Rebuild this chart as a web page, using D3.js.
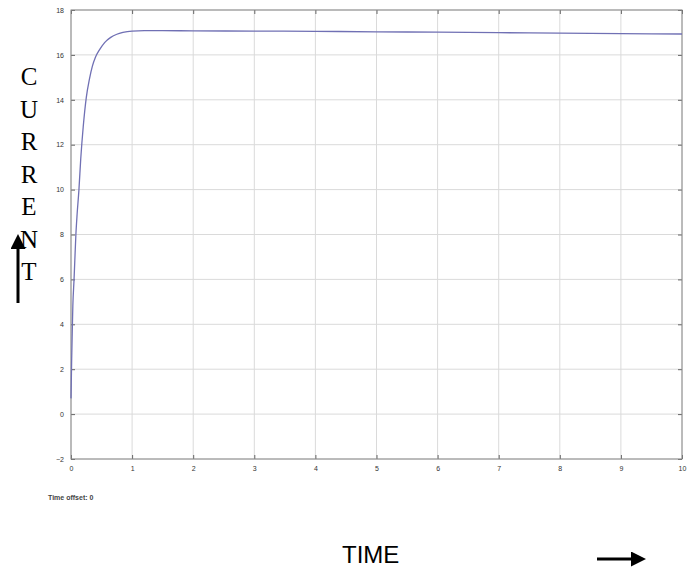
<!DOCTYPE html>
<meta charset="utf-8">
<script src="https://d3js.org/d3.v7.min.js"></script>
<style>
  body { margin: 0; background: #fff; }
  .tick text { font-family: "Liberation Sans", Arial, sans-serif; font-size: 7px; fill: #333; }
</style>
<div id="vis"></div>
<script>

    // current vs time
    var timeVals = [0, 0.01, 0.02, 0.03, 0.05, 0.08, 0.1, 0.13, 0.16, 0.2, 0.25, 0.3, 0.35, 0.4, 0.46, 0.55, 0.65, 0.75, 0.85, 1.0, 1.2, 1.5, 2, 3, 4, 5, 6, 7, 8, 9, 10]
    var currentVals = [0.7, 2.3, 3.6, 4.8, 6.0, 8.0, 8.9, 10.0, 11.4, 12.8, 14.1, 14.9, 15.5, 15.9, 16.2, 16.55, 16.78, 16.92, 17.0, 17.06, 17.08, 17.08, 17.07, 17.06, 17.05, 17.03, 17.01, 16.99, 16.97, 16.95, 16.93]
    var xTicks = [0, 1, 2, 3, 4, 5, 6, 7, 8, 9, 10]
    var yTicks = [-2, 0, 2, 4, 6, 8, 10, 12, 14, 16, 18]
    var yLetters = ["C", "U", "R", "R", "E", "N", "T"]

    var margin = { top: 10, left: 71 },
        width = 611,
        height = 449;

    var root = d3.select("#vis")
        .append("svg")
        .attr("width", 694)
        .attr("height", 568)

    var defs = root.append("defs")
    defs.append("marker")
        .attr("id", "head")
        .attr("viewBox", "0 0 10 10")
        .attr("refX", 0).attr("refY", 5)
        .attr("markerWidth", 5).attr("markerHeight", 5)
        .attr("orient", "auto")
        .append("path")
        .attr("d", "M0,0L10,5L0,10z")
        .attr("fill", "#000")

    var svg = root.append("g")
        .attr("transform", "translate(" + margin.left + "," + margin.top + ")");

    var x = d3.scaleLinear().domain([0, 10]).range([0, width])
    var y = d3.scaleLinear().domain([-2, 18]).range([height, 0])

    // grid
    svg.append("g")
        .selectAll("line")
        .data(xTicks)
        .enter().append("line")
        .attr("x1", d => x(d)).attr("x2", d => x(d))
        .attr("y1", 0).attr("y2", height)
        .attr("stroke", "#dadada")
    svg.append("g")
        .selectAll("line")
        .data(yTicks)
        .enter().append("line")
        .attr("x1", 0).attr("x2", width)
        .attr("y1", d => y(d)).attr("y2", d => y(d))
        .attr("stroke", "#dadada")

    // axes, ticks pointing inward
    svg.append("g")
        .attr("transform", "translate(0," + height + ")")
        .call(d3.axisBottom(x).tickValues(xTicks).tickSize(-4).tickPadding(7).tickFormat(d3.format("d")))
    svg.append("g")
        .call(d3.axisLeft(y).tickValues(yTicks).tickSize(-4).tickPadding(7).tickFormat(d3.format("d")))
    svg.append("g")
        .call(d3.axisTop(x).tickValues(xTicks).tickSize(-4).tickFormat(""))
    svg.append("g")
        .attr("transform", "translate(" + width + ",0)")
        .call(d3.axisRight(y).tickValues(yTicks).tickSize(-4).tickFormat(""))
    svg.selectAll(".domain").remove()
    svg.selectAll(".tick line").attr("stroke", "#666")

    svg.append("rect")
        .attr("width", width).attr("height", height)
        .attr("fill", "none")
        .attr("stroke", "#888")

    // the curve
    var pts = timeVals.map((t, i) => [t, currentVals[i]])
    svg.append("path")
        .datum(pts)
        .attr("fill", "none")
        .attr("stroke", "#7070b4")
        .attr("stroke-width", 1.3)
        .attr("d", d3.line().x(d => x(d[0])).y(d => y(d[1])).curve(d3.curveMonotoneX))

    root.append("text")
        .attr("x", 48).attr("y", 500)
        .style("font-family", "Liberation Sans, Arial, sans-serif")
        .style("font-size", "7px")
        .style("font-weight", "bold")
        .attr("fill", "#444")
        .text("Time offset: 0")

    // y label, one letter per line
    root.append("g")
        .selectAll("text")
        .data(yLetters)
        .enter().append("text")
        .attr("x", 29)
        .attr("y", (d, i) => 85 + i * 32.5)
        .attr("text-anchor", "middle")
        .style("font-family", "Liberation Serif, Times New Roman, serif")
        .style("font-size", "25px")
        .text(d => d)

    root.append("line")
        .attr("x1", 18).attr("y1", 303)
        .attr("x2", 18).attr("y2", 249)
        .attr("stroke", "#000").attr("stroke-width", 3)
        .attr("marker-end", "url(#head)")

    root.append("text")
        .attr("x", 342).attr("y", 563)
        .style("font-family", "Liberation Sans, Arial, sans-serif")
        .style("font-size", "24px")
        .text("TIME")

    root.append("line")
        .attr("x1", 597).attr("y1", 559)
        .attr("x2", 631).attr("y2", 559)
        .attr("stroke", "#000").attr("stroke-width", 3)
        .attr("marker-end", "url(#head)")

</script>
